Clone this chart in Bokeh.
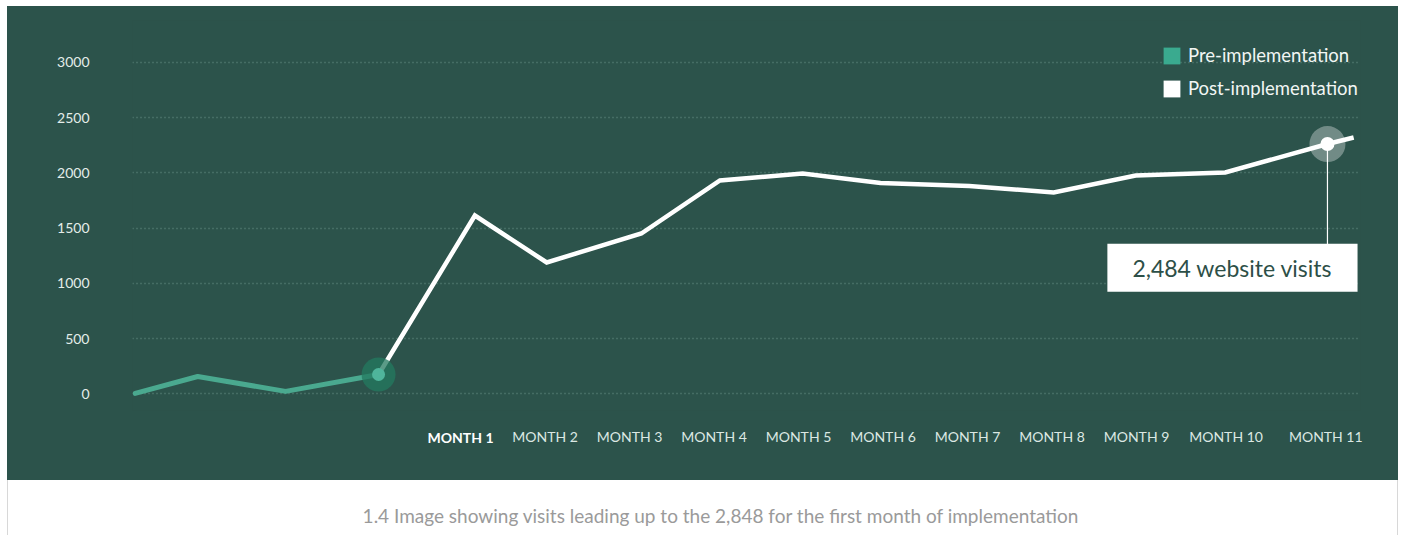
from bokeh.plotting import figure
from bokeh.models import Range1d, FixedTicker, Label, Legend, LegendItem, Div, Spacer, LinearAxis
from bokeh.layouts import column, row
from bokeh.embed import file_html
from bokeh.resources import INLINE

# ---- data ----
pre_x = [-2.85, -2.11, -1.07, 0.03]
pre_y = [5, 158, 23, 176]
post_x = [0.03, 1.17, 2.02, 3.14, 4.07, 5.05, 5.97, 7.02, 8.02, 8.99, 10.05, 11.26, 11.57]
post_y = [176, 1615, 1190, 1452, 1932, 1995, 1910, 1882, 1823, 1977, 2005, 2262, 2321]
month_labels = ["MONTH 1", "MONTH 2", "MONTH 3", "MONTH 4", "MONTH 5", "MONTH 6",
                "MONTH 7", "MONTH 8", "MONTH 9", "MONTH 10", "MONTH 11"]
tick_pos = [1, 2, 3, 4, 5, 6, 7, 8, 9, 10.06, 11.24]
y_ticks = [0, 500, 1000, 1500, 2000, 2500, 3000]
series_names = ["Pre-implementation", "Post-implementation"]
callout_text = "2,484 website visits"
callout_index = 11
callout_y = 1142
caption = "1.4 Image showing visits leading up to the 2,848 for the first month of implementation"

BG = "#2c534b"
PRE = "#4aa98f"
FONT = "Lato"

p = figure(width=1391, height=474, output_backend="svg", toolbar_location=None,
           x_range=Range1d(-2.882, 11.651), y_range=Range1d(-150, 3380),
           min_border_left=125, min_border_right=38, min_border_top=14, min_border_bottom=70)
p.background_fill_color = BG
p.border_fill_color = BG
p.outline_line_color = None
p.styles = {"background-color": BG}

# grid
p.xgrid.visible = False
p.ygrid.ticker = FixedTicker(ticks=y_ticks)
p.ygrid.grid_line_color = "#6c968a"
p.ygrid.grid_line_dash = "1 3"
p.ygrid.grid_line_width = 1.5
p.ygrid.grid_line_alpha = 0.8

# y axis
p.yaxis.ticker = FixedTicker(ticks=y_ticks)
p.yaxis.axis_line_color = None
p.yaxis.major_tick_line_color = None
p.yaxis.minor_tick_line_color = None
p.yaxis.major_label_standoff = 37
p.yaxis.major_label_text_color = "#e4ede9"
p.yaxis.major_label_text_font = FONT
p.yaxis.major_label_text_font_size = "14px"


def style_xaxis(ax, standoff, bold):
    ax.axis_line_color = None
    ax.major_tick_line_color = None
    ax.minor_tick_line_color = None
    ax.major_tick_out = 0
    ax.minor_tick_out = 0
    ax.major_label_standoff = standoff
    ax.major_label_text_font = FONT
    ax.major_label_text_font_size = "14px"
    ax.major_label_text_color = "#ffffff" if bold else "#dce8e3"
    ax.major_label_text_font_style = "bold" if bold else "normal"


# x axis: regular month labels
xa = p.xaxis[0]
xa.ticker = FixedTicker(ticks=tick_pos[1:])
xa.major_label_overrides = {t: lab for t, lab in zip(tick_pos[1:], month_labels[1:])}
style_xaxis(xa, 17, False)

# second axis for the bold first month, pulled up onto the same row
xb = LinearAxis(ticker=FixedTicker(ticks=tick_pos[:1]),
                major_label_overrides={tick_pos[0]: month_labels[0]})
style_xaxis(xb, -19, True)
p.add_layout(xb, "below")

# lines
p.line(pre_x, pre_y, line_color=PRE, line_width=5, line_join="round", line_cap="round")
p.line(post_x, post_y, line_color="#ffffff", line_width=4.5, line_join="miter")

# highlighted points
p.scatter([pre_x[-1]], [pre_y[-1]], size=34, fill_color="#237a5f", fill_alpha=0.75, line_color=None)
p.scatter([pre_x[-1]], [pre_y[-1]], size=13, fill_color="#4fb59b", line_color=None)

cx, cy = post_x[callout_index], post_y[callout_index]
p.segment(x0=[cx], y0=[cy], x1=[cx], y1=[callout_y], line_color="#ffffff", line_width=1.2)
p.scatter([cx], [cy], size=36, fill_color="#ffffff", fill_alpha=0.33, line_color=None)
p.scatter([cx], [cy], size=14, fill_color="#ffffff", line_color=None)

p.add_layout(Label(x=cx, y=callout_y, x_offset=-95, text=callout_text,
                   text_font=FONT, text_font_size="23px", text_color="#2d4f47",
                   text_align="center", text_baseline="middle",
                   background_fill_color="#ffffff",
                   padding=dict(left=25, right=25, top=10, bottom=10)))

# legend (square swatches)
nan = float("nan")
r_pre = p.rect(x=[nan], y=[nan], width=1, height=1, fill_color="#3aaa8f", line_color=None)
r_post = p.rect(x=[nan], y=[nan], width=1, height=1, fill_color="#ffffff", line_color=None)
legend = Legend(items=[LegendItem(label=series_names[0], renderers=[r_pre]),
                       LegendItem(label=series_names[1], renderers=[r_post])],
                location=(1029, 311))
legend.background_fill_alpha = 0
legend.border_line_color = None
legend.label_text_font = FONT
legend.label_text_font_size = "18.5px"
legend.label_text_color = "#f2f6f4"
legend.glyph_width = 21
legend.glyph_height = 21
legend.spacing = 11
legend.label_standoff = 6
legend.padding = 2
legend.margin = 0
p.add_layout(legend)

# caption panel
cap = Div(text=caption, width=1391, height=55, margin=0,
          styles={"background-color": "#ffffff",
                  "border-left": "1px solid #d8d8d8",
                  "border-right": "1px solid #d8d8d8",
                  "box-sizing": "border-box",
                  "text-align": "center",
                  "font-family": "Lato",
                  "font-size": "19px",
                  "color": "#9a9a9a",
                  "padding-top": "22px",
                  "padding-left": "36px"})

layout = row(Spacer(width=7), column(Spacer(height=6), p, cap, spacing=0), spacing=0)
open("out.html", "w").write(file_html(layout, INLINE))
